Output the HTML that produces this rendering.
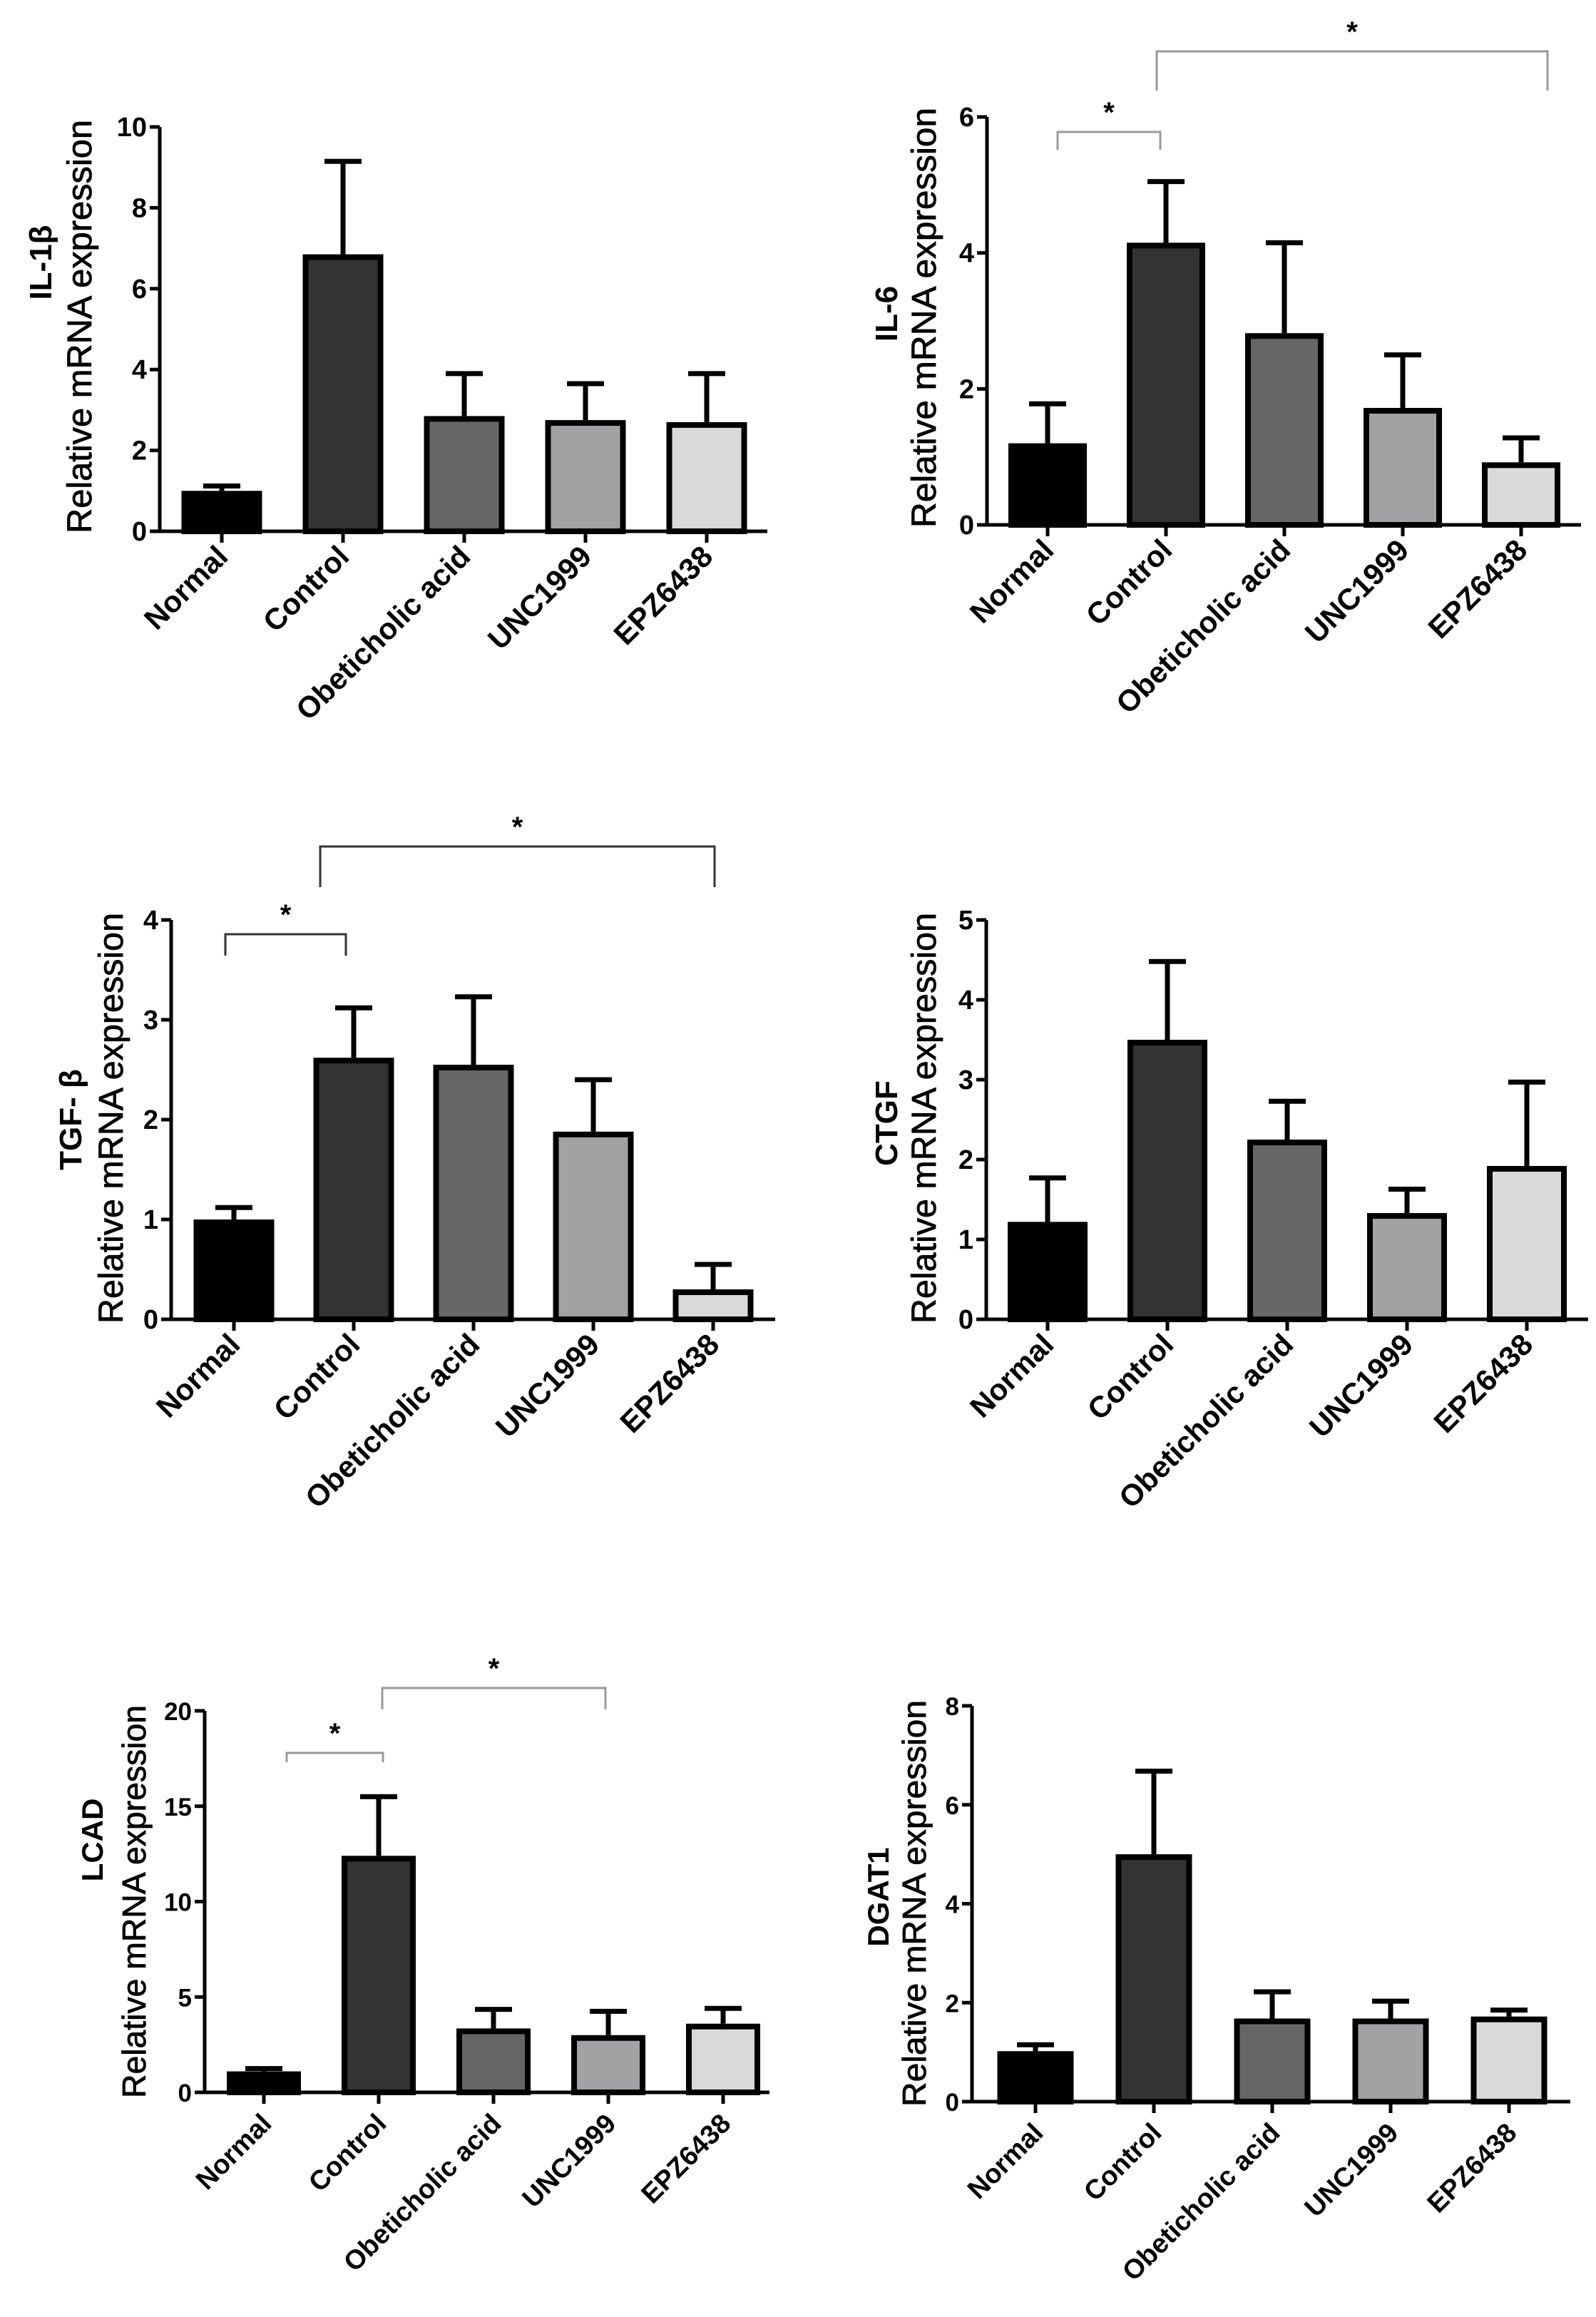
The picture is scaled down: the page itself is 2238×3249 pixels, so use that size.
<!DOCTYPE html>
<html><head><meta charset="utf-8"><style>
html,body{margin:0;padding:0;background:#fff;}
svg{display:block;}
text{font-family:"Liberation Sans",Arial,sans-serif;fill:#000;}
</style></head>
<body>
<svg id="fig" width="2238" height="3249" viewBox="0 0 2238 3249" xmlns="http://www.w3.org/2000/svg"></svg>
<script>
const categories = ["Normal","Control","Obeticholic acid","UNC1999","EPZ6438"];
const fills = ["#000000","#333333","#666666","#a2a2a4","#d9d9d9"];

const il1bMeans = [1.0, 6.85, 2.85, 2.75, 2.7];
const il1bErr   = [1.12, 9.15, 3.9, 3.65, 3.9];
const il1bTicks = [0,2,4,6,8,10];

const il6Means = [1.2, 4.15, 2.82, 1.72, 0.92];
const il6Err   = [1.78, 5.05, 4.15, 2.5, 1.28];
const il6Ticks = [0,2,4,6];

const tgfMeans = [1.0, 2.62, 2.55, 1.88, 0.3];
const tgfErr   = [1.12, 3.12, 3.23, 2.4, 0.55];
const tgfTicks = [0,1,2,3,4];

const ctgfMeans = [1.22, 3.5, 2.25, 1.33, 1.92];
const ctgfErr   = [1.77, 4.48, 2.73, 1.63, 2.97];
const ctgfTicks = [0,1,2,3,4,5];

const lcadMeans = [1.1, 12.4, 3.35, 3.0, 3.6];
const lcadErr   = [1.25, 15.5, 4.35, 4.25, 4.4];
const lcadTicks = [0,5,10,15,20];

const dgatMeans = [1.02, 5.0, 1.68, 1.68, 1.72];
const dgatErr   = [1.15, 6.68, 2.22, 2.03, 1.85];
const dgatTicks = [0,2,4,6,8];

const NS="http://www.w3.org/2000/svg";
const svg=document.getElementById('fig');
function mk(tag,attrs,parent){const e=document.createElementNS(NS,tag);for(const k in attrs)e.setAttribute(k,attrs[k]);(parent||svg).appendChild(e);return e;}

function panel(o){
  const g=mk('g',{});
  
  
  const ymax=o.ticks[o.ticks.length-1];
  const yS=v=>o.y0-(v/ymax)*(o.y0-o.yTop);
  const xS=i=>o.c0+i*o.step;
  o.means.forEach((m,i)=>{
    const top=yS(m), bw=o.bw;
    const eb=mk('line',{x1:xS(i),x2:xS(i),y1:top,y2:yS(o.err[i]),stroke:'#000','stroke-width':7},g);
    
    
    const cap=mk('line',{x1:xS(i)-26,x2:xS(i)+26,y1:yS(o.err[i]),y2:yS(o.err[i]),stroke:'#000','stroke-width':7},g);
    
    
    const r=mk('rect',{x:xS(i)-bw/2+4,y:top+4,width:bw-8,height:Math.max(0,o.y0-top-4),fill:fills[i],stroke:'#000','stroke-width':8},g);
    
    
    const t=mk('line',{x1:xS(i),x2:xS(i),y1:o.y0,y2:o.y0+16,stroke:'#000','stroke-width':5},g);
    
    
    const lx=xS(i)+o.lox, ly=o.y0+o.loy;
    const lbl=mk('text',{x:lx,y:ly,'font-size':o.lfs,'font-weight':'bold','text-anchor':'end',transform:`rotate(-45 ${lx} ${ly})`},g);
    lbl.textContent=categories[i];
    
    
  });
  const ya=mk('line',{x1:o.ax,x2:o.ax,y1:o.yTop,y2:o.y0+2,stroke:'#000','stroke-width':5},g);
  
  
  const xa=mk('line',{x1:o.ax-14,x2:o.xEnd,y1:o.y0,y2:o.y0,stroke:'#000','stroke-width':5},g);
  
  
  o.ticks.forEach(v=>{
    const tk=mk('line',{x1:o.ax-14,x2:o.ax,y1:yS(v),y2:yS(v),stroke:'#000','stroke-width':5},g);
    
    
    const tl=mk('text',{x:o.ax-18,y:yS(v)+13,'font-size':o.tfs,'font-weight':'bold','text-anchor':'end'},g);
    tl.textContent=v;
    
    
  });
  const tx=o.relX, tc=(o.relTop+o.relBot)/2;
  const rt=mk('text',{x:tx,y:tc,'font-size':o.rfs,'text-anchor':'middle',transform:`rotate(-90 ${tx} ${tc})`,textLength:o.relBot-o.relTop,lengthAdjust:'spacingAndGlyphs',stroke:'#000','stroke-width':0.8},g);
  rt.textContent='Relative mRNA expression';
  
  
  const gt=mk('text',{x:o.geneX,y:o.geneY,'font-size':o.gfs,'font-weight':'bold','text-anchor':'middle',transform:`rotate(-90 ${o.geneX} ${o.geneY})`},g);
  gt.textContent=o.gene;
  
  
  (o.brackets||[]).forEach(b=>{
    const x1=xS(b[0])+b[2], x2=xS(b[1])+b[3];
    const p=mk('path',{d:`M${x1} ${b[5]} V${b[4]} H${x2} V${b[5]}`,fill:'none',stroke:o.bcol,'stroke-width':3},g);
    
    
    const s=mk('text',{x:(x1+x2)/2,y:b[4]-14,'font-size':40,'font-weight':'bold','text-anchor':'middle'},g);
    s.textContent='*';
    
    
  });
}

panel({name:'il-1b',gene:'IL-1β',means:il1bMeans,err:il1bErr,ticks:il1bTicks,ax:224,yTop:178,y0:745,xEnd:1076,c0:311,step:170,bw:113,
  lox:11,loy:38,lfs:42,tfs:38,rfs:48,gfs:44,relX:128,relTop:168,relBot:748,geneX:72,geneY:368});
panel({name:'il-6',gene:'IL-6',means:il6Means,err:il6Err,ticks:il6Ticks,ax:1384,yTop:164,y0:736,xEnd:2217,c0:1469,step:166,bw:110,
  lox:11,loy:38,lfs:42,tfs:38,rfs:48,gfs:44,relX:1312,relTop:151,relBot:740,geneX:1258,geneY:440,
  bcol:'#999',brackets:[[0,1,14,-8,185,210],[1,4,-13,37,72,127]]});
panel({name:'tgf-b',gene:'TGF- β',means:tgfMeans,err:tgfErr,ticks:tgfTicks,ax:240,yTop:1290,y0:1850,xEnd:1087,c0:328,step:168,bw:113,
  lox:11,loy:38,lfs:42,tfs:38,rfs:48,gfs:44,relX:172,relTop:1280,relBot:1856,geneX:114,geneY:1570,
  bcol:'#333',brackets:[[0,1,-12,-11,1310,1340],[1,4,-47,2,1187,1244]]});
panel({name:'ctgf',gene:'CTGF',means:ctgfMeans,err:ctgfErr,ticks:ctgfTicks,ax:1383,yTop:1290,y0:1850,xEnd:2227,c0:1469,step:168,bw:112,
  lox:11,loy:38,lfs:42,tfs:38,rfs:48,gfs:44,relX:1312,relTop:1280,relBot:1856,geneX:1258,geneY:1575});
panel({name:'lcad',gene:'LCAD',means:lcadMeans,err:lcadErr,ticks:lcadTicks,ax:287,yTop:2399,y0:2934,xEnd:1079,c0:370,step:161,bw:104,
  lox:13,loy:46,lfs:38,tfs:35,rfs:46,gfs:42,relX:204,relTop:2391,relBot:2942,geneX:144,geneY:2580,
  bcol:'#999',brackets:[[0,1,32,6,2458,2471],[1,3,5,-4,2367,2397]]});
panel({name:'dgat1',gene:'DGAT1',means:dgatMeans,err:dgatErr,ticks:dgatTicks,ax:1363,yTop:2392,y0:2947,xEnd:2202,c0:1452,step:166,bw:107,
  lox:13,loy:46,lfs:38,tfs:35,rfs:46,gfs:42,relX:1298,relTop:2384,relBot:2954,geneX:1246,geneY:2660});
</script>
</body></html>
